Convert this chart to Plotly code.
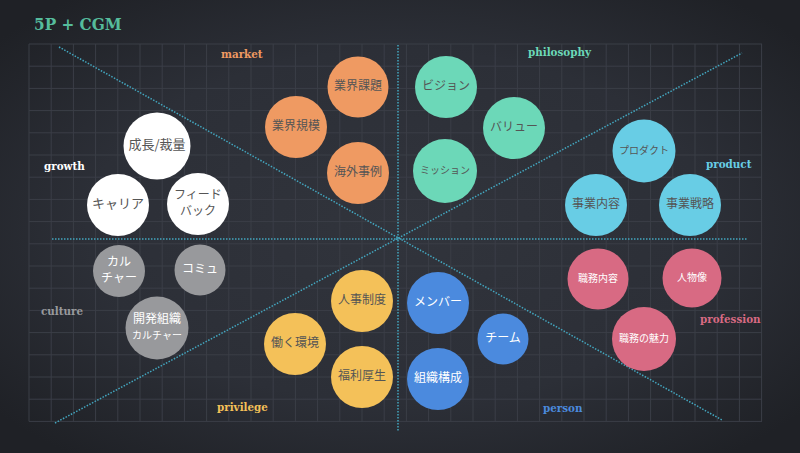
import base64
import plotly.graph_objects as go

# ---------------- data ----------------
title_text = "5P + CGM"

growth_labels = ["成長/裁量", "キャリア", "フィード<br>バック"]
growth_x = [157, 118, 198]
growth_y = [146, 205, 204]
growth_d = [67, 62, 62]

culture_labels = ["カル<br>チャー", "コミュ", "開発組織<br><span style='font-size:10px'>カルチャー</span>"]
culture_x = [119, 200, 157]
culture_y = [271, 270, 328]
culture_d = [52, 51, 63]

market_labels = ["業界課題", "業界規模", "海外事例"]
market_x = [358, 296, 358]
market_y = [87, 127, 173]
market_d = [61, 62, 62]

philosophy_labels = ["ビジョン", "バリュー", "ミッション"]
philosophy_x = [446, 514, 445]
philosophy_y = [87, 128, 171]
philosophy_d = [62, 62, 64]

product_labels = ["プロダクト", "事業内容", "事業戦略"]
product_x = [644, 596, 690]
product_y = [151, 205, 205]
product_d = [63, 62, 62]

profession_labels = ["職務内容", "人物像", "職務の魅力"]
profession_x = [598, 692, 644]
profession_y = [279, 278, 339]
profession_d = [61, 59, 64]

privilege_labels = ["人事制度", "働く環境", "福利厚生"]
privilege_x = [362, 295, 362]
privilege_y = [301, 344, 377]
privilege_d = [62, 62, 62]

person_labels = ["メンバー", "チーム", "組織構成"]
person_x = [438, 503, 438]
person_y = [303, 339, 379]
person_d = [62, 51, 62]

category_names = ["market", "philosophy", "growth", "product", "culture", "profession", "privilege", "person"]
category_x = [242, 560, 64, 729, 62, 730, 242, 563]
category_y = [54, 52, 166, 164, 311, 319, 407, 408]

# ---------------- style ----------------
JP = "Noto Sans CJK JP"
SLAB = "DejaVu Serif Condensed"
BG = "#2b2e36"
GRID = "#3b3e47"
LINE = "#43a6bf"

groups = [
    (growth_labels, growth_x, growth_y, growth_d, "#ffffff", "#555555", [13, 13, 12]),
    (culture_labels, culture_x, culture_y, culture_d, "#98999c", "#ffffff", [12, 12, 12]),
    (market_labels, market_x, market_y, market_d, "#ef9a62", "#555555", [12, 12, 12]),
    (philosophy_labels, philosophy_x, philosophy_y, philosophy_d, "#6cd8b8", "#555555", [12, 12, 10]),
    (product_labels, product_x, product_y, product_d, "#68cde5", "#555555", [10, 12, 12]),
    (profession_labels, profession_x, profession_y, profession_d, "#d86a83", "#ffffff", [10, 10, 10]),
    (privilege_labels, privilege_x, privilege_y, privilege_d, "#f4c159", "#555555", [12, 12, 12]),
    (person_labels, person_x, person_y, person_d, "#4b8ade", "#ffffff", [12, 12, 12]),
]
category_colors = ["#ef9a62", "#6cd8b8", "#ffffff", "#68cde5", "#98999c", "#d86a83", "#f4c159", "#4b8ade"]

fig = go.Figure()

W, H = 800, 453

# background vignette image
svg = f'''<svg xmlns="http://www.w3.org/2000/svg" width="{W}" height="{H}">
<defs><radialGradient id="g" cx="50%" cy="50%" r="65%">
<stop offset="0%" stop-color="#31343c"/><stop offset="60%" stop-color="#2c2f37"/><stop offset="100%" stop-color="#1f2126"/>
</radialGradient></defs><rect width="{W}" height="{H}" fill="url(#g)"/></svg>'''
uri = "data:image/svg+xml;base64," + base64.b64encode(svg.encode()).decode()
fig.add_layout_image(source=uri, xref="paper", yref="paper", x=0, y=1, sizex=1, sizey=1,
                     sizing="stretch", xanchor="left", yanchor="top", layer="below")

shapes = []
# grid
gx0, gx1, gy0, gy1, step = 29, 762, 44, 421.4, 22.2
i = 0
while gx0 + i * step <= gx1 + 0.5:
    x = gx0 + i * step
    shapes.append(dict(type="line", x0=x, x1=x, y0=gy0, y1=gy1, line=dict(color=GRID, width=1), layer="below"))
    i += 1
j = 0
while gy0 + j * step <= gy1 + 0.5:
    y = gy0 + j * step
    shapes.append(dict(type="line", x0=gx0, x1=gx1, y0=y, y1=y, line=dict(color=GRID, width=1), layer="below"))
    j += 1

# dotted axes
for (x0, y0, x1, y1) in [(398, 45, 398, 432), (52, 239, 748, 239), (59, 47, 722, 420), (55, 423, 742, 53)]:
    shapes.append(dict(type="line", x0=x0, y0=y0, x1=x1, y1=y1,
                       line=dict(color=LINE, width=1.5, dash="1.5px,1.5px"), layer="below"))

fig.update_layout(shapes=shapes)

for labels, xs, ys, ds, col, tcol, fs in groups:
    fig.add_trace(go.Scatter(
        x=xs, y=ys, mode="markers+text", text=labels,
        textposition="middle center",
        marker=dict(size=ds, color=col, line=dict(width=0), opacity=1),
        textfont=dict(family=JP, size=fs, color=tcol),
        hoverinfo="skip", showlegend=False, cliponaxis=False,
    ))

for name, x, y, c in zip(category_names, category_x, category_y, category_colors):
    fig.add_annotation(x=x, y=y, text=f"<b>{name}</b>", showarrow=False,
                       font=dict(family=SLAB, size=11.5, color=c), xanchor="center", yanchor="middle")

fig.add_annotation(x=32, y=24, text=f"<b>{title_text}</b>", showarrow=False, xanchor="left", yanchor="middle",
                   font=dict(family=SLAB, size=17, color="#55bc9c"))

fig.update_layout(
    width=W, height=H,
    margin=dict(l=0, r=0, t=0, b=0),
    paper_bgcolor=BG, plot_bgcolor="rgba(0,0,0,0)",
    xaxis=dict(range=[0, W], visible=False, fixedrange=True),
    yaxis=dict(range=[H, 0], visible=False, fixedrange=True),
)

fig.write_html("out.html", config={"displayModeBar": False},
               post_script="document.body.style.margin='0';document.body.style.overflow='hidden';")
